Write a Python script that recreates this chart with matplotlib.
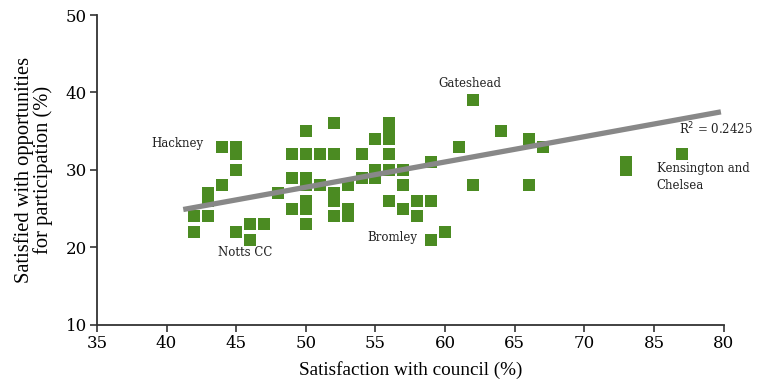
import matplotlib.pyplot as plt

# council satisfaction (x) vs satisfied with participation (y), one point per council
council = [42, 42, 43, 43, 43, 44, 44, 45, 45, 45, 45, 46, 46, 47, 48,
           49, 49, 49, 50, 50, 50, 50, 50, 50, 50, 51, 51,
           52, 52, 52, 52, 52, 53, 53, 53, 54, 54, 55, 55, 55,
           56, 56, 56, 56, 56, 56, 57, 57, 57, 58, 58, 59, 59, 59,
           60, 61, 62, 62, 64, 66, 66, 67, 73, 73, 77]
participation = [24, 22, 27, 26, 24, 33, 28, 33, 32, 30, 22, 23, 21, 23, 27,
                 32, 29, 25, 35, 32, 29, 28, 26, 25, 23, 32, 28,
                 36, 32, 27, 26, 24, 28, 25, 24, 32, 29, 34, 30, 29,
                 36, 35, 34, 32, 30, 26, 30, 28, 25, 26, 24, 31, 26, 21,
                 22, 33, 39, 28, 35, 34, 28, 33, 31, 30, 32]

# trend line ends
trend_x = [41.2, 79.8]
trend_y = [24.9, 37.5]

xticks = [35, 40, 45, 50, 55, 60, 65, 70, 75, 80]
xtick_labels = ['35', '40', '45', '50', '55', '60', '65', '70', '85', '80']
yticks = [10, 20, 30, 40, 50]

# labelled councils: text, x, y
labels = [('Hackney', 38.9, 33.4),
          ('Notts CC', 43.7, 19.3),
          ('Bromley', 54.4, 21.3),
          ('Gateshead', 59.5, 41.2),
          ('Kensington and\nChelsea', 75.2, 31.0)]

fig = plt.figure(figsize=(7.57, 3.85), dpi=100)
ax = fig.add_axes([0.128, 0.156, 0.828, 0.805])

ax.scatter(council, participation, marker='s', s=85, color='#4b8b22',
           linewidths=0, zorder=2)

ax.plot(trend_x, trend_y, color='#888888', lw=3.8, zorder=3,
        solid_capstyle='butt')
ax.text(76.8, 35.3, 'R$^2$ = 0.2425', fontsize=8.5, family='DejaVu Serif',
        va='center', color='#222222')

for txt, lx, ly in labels:
    ax.text(lx, ly, txt, fontsize=8.5, family='DejaVu Serif', color='#222222',
            va='top' if '\n' in txt else 'center', linespacing=1.35)

ax.set_xlim(35, 80)
ax.set_ylim(10, 50)
ax.set_xticks(xticks)
ax.set_xticklabels(xtick_labels)
ax.set_yticks(yticks)
for lab in ax.get_xticklabels() + ax.get_yticklabels():
    lab.set_family('DejaVu Serif')
    lab.set_fontsize(12)
ax.tick_params(direction='out', length=5, width=1.2, color='#333333', pad=2)

for side in ['top', 'right']:
    ax.spines[side].set_visible(False)
for side in ['left', 'bottom']:
    ax.spines[side].set_linewidth(1.3)
    ax.spines[side].set_color('#333333')

ax.set_xlabel('Satisfaction with council (%)', family='Liberation Serif',
              fontsize=13.8, labelpad=7)
ax.set_ylabel('Satisfied with opportunities\nfor participation (%)',
              family='Liberation Serif', fontsize=14.8, labelpad=9,
              linespacing=1.0)

fig.savefig('out.png', dpi=100)
